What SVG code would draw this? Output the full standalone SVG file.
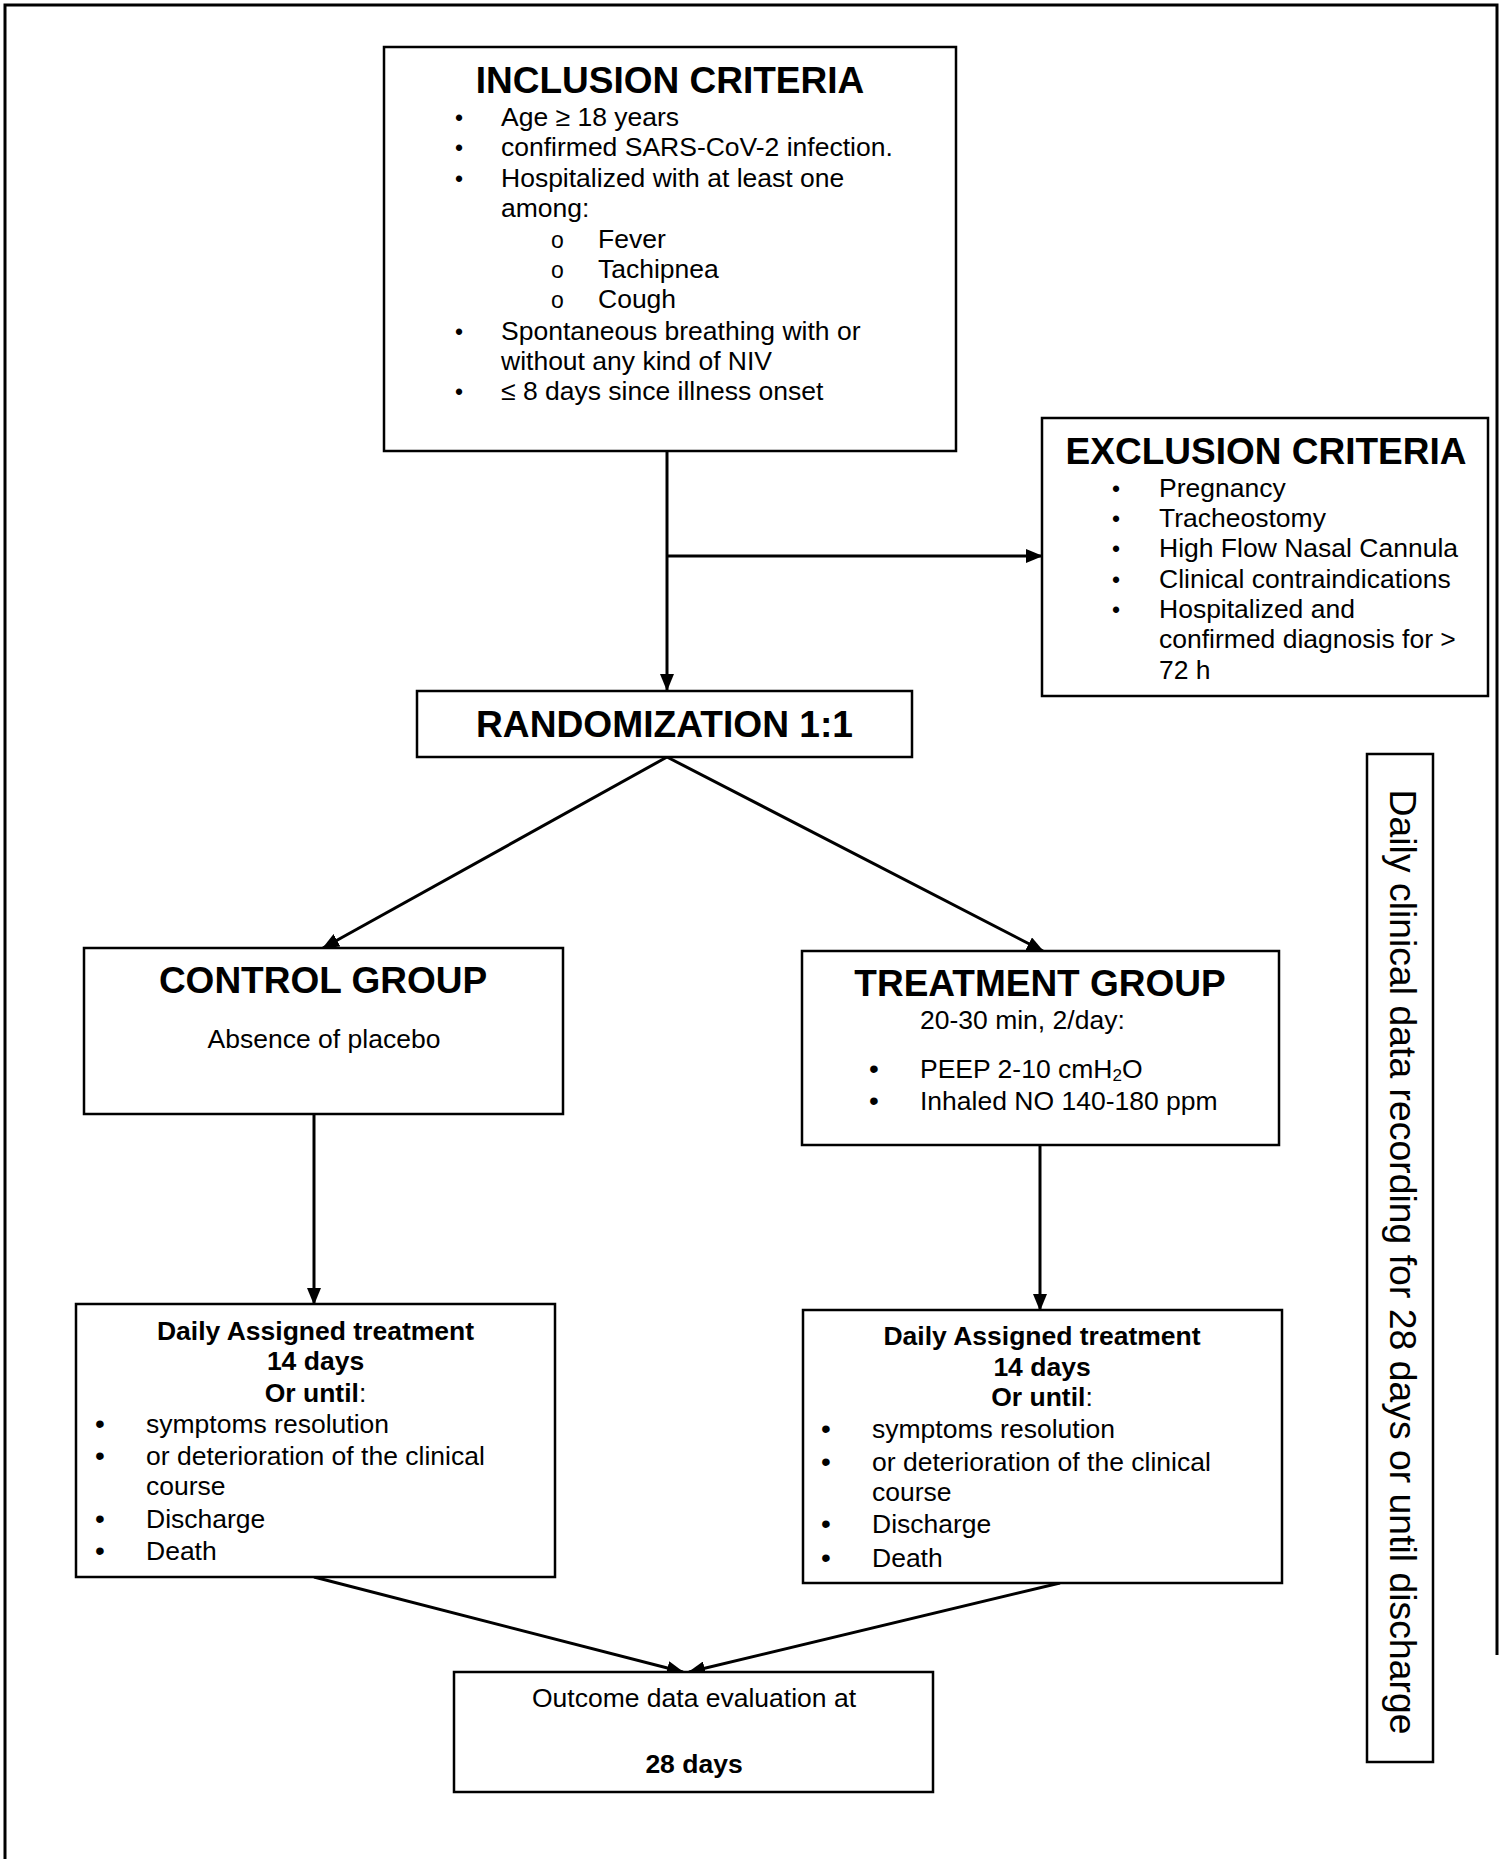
<svg xmlns="http://www.w3.org/2000/svg" width="1502" height="1859" viewBox="0 0 1502 1859">
<style>
text{font-family:"Liberation Sans",Arial,sans-serif;fill:#000}
.box{fill:#fff;stroke:#000;stroke-width:2.5}
.t{font-size:37px;font-weight:bold;text-anchor:middle}
.b{font-size:26.5px}
.bb{font-size:26.5px;font-weight:bold}
.c{text-anchor:middle}
.dot{font-size:23px}
.sub{font-size:23px}
.dot2{font-size:28px}
.con{stroke:#000;stroke-width:3;fill:none}
</style>
<defs>
<marker id="ah" markerUnits="userSpaceOnUse" markerWidth="17" markerHeight="14" refX="16" refY="7" orient="auto">
<path d="M0,0 L17,7 L0,14 z" fill="#000"/>
</marker>
</defs>
<rect width="1502" height="1859" fill="#fff"/>
<path d="M5,1859 V5 H1497 V1655" fill="none" stroke="#000" stroke-width="3"/>

<g id="connectors">
<line class="con" x1="667" y1="451" x2="667" y2="690" marker-end="url(#ah)"/>
<line class="con" x1="667" y1="556" x2="1042" y2="556" marker-end="url(#ah)"/>
<line class="con" x1="667" y1="757" x2="323" y2="948" marker-end="url(#ah)"/>
<line class="con" x1="667" y1="757" x2="1043" y2="951" marker-end="url(#ah)"/>
<line class="con" x1="314" y1="1114" x2="314" y2="1304" marker-end="url(#ah)"/>
<line class="con" x1="1040" y1="1145" x2="1040" y2="1310" marker-end="url(#ah)"/>
<line class="con" x1="314" y1="1577" x2="683" y2="1672" marker-end="url(#ah)"/>
<line class="con" x1="1060" y1="1583" x2="689" y2="1672" marker-end="url(#ah)"/>
</g>

<g id="inclusion">
<rect class="box" x="384" y="47" width="572" height="404"/>
<text class="t" x="670" y="93">INCLUSION CRITERIA</text>
<text class="dot" x="455" y="126">•</text><text class="b" x="501" y="126">Age ≥ 18 years</text>
<text class="dot" x="455" y="156">•</text><text class="b" x="501" y="156">confirmed SARS-CoV-2 infection.</text>
<text class="dot" x="455" y="187">•</text><text class="b" x="501" y="187">Hospitalized with at least one</text>
<text class="b" x="501" y="217">among:</text>
<text class="sub" x="551" y="248">o</text><text class="b" x="598" y="248">Fever</text>
<text class="sub" x="551" y="278">o</text><text class="b" x="598" y="278">Tachipnea</text>
<text class="sub" x="551" y="308">o</text><text class="b" x="598" y="308">Cough</text>
<text class="dot" x="455" y="340">•</text><text class="b" x="501" y="340">Spontaneous breathing with or</text>
<text class="b" x="501" y="370">without any kind of NIV</text>
<text class="dot" x="455" y="400">•</text><text class="b" x="501" y="400">≤ 8 days since illness onset</text>
</g>

<g id="exclusion">
<rect class="box" x="1042" y="418" width="446" height="278"/>
<text class="t" x="1266" y="464">EXCLUSION CRITERIA</text>
<text class="dot" x="1112" y="497">•</text><text class="b" x="1159" y="497">Pregnancy</text>
<text class="dot" x="1112" y="527">•</text><text class="b" x="1159" y="527">Tracheostomy</text>
<text class="dot" x="1112" y="557">•</text><text class="b" x="1159" y="557">High Flow Nasal Cannula</text>
<text class="dot" x="1112" y="588">•</text><text class="b" x="1159" y="588">Clinical contraindications</text>
<text class="dot" x="1112" y="618">•</text><text class="b" x="1159" y="618">Hospitalized and</text>
<text class="b" x="1159" y="648">confirmed diagnosis for &gt;</text>
<text class="b" x="1159" y="679">72 h</text>
</g>

<g id="randomization">
<rect class="box" x="417" y="691" width="495" height="66"/>
<text class="t" x="664.5" y="737" textLength="377" lengthAdjust="spacingAndGlyphs">RANDOMIZATION 1:1</text>
</g>

<g id="control">
<rect class="box" x="84" y="948" width="479" height="166"/>
<text class="t" x="323" y="993">CONTROL GROUP</text>
<text class="b c" x="324" y="1048">Absence of placebo</text>
</g>

<g id="treatment">
<rect class="box" x="802" y="951" width="477" height="194"/>
<text class="t" x="1040" y="996">TREATMENT GROUP</text>
<text class="b" x="920" y="1029">20-30 min, 2/day:</text>
<text class="dot2" x="869" y="1078">•</text><text class="b" x="920" y="1078">PEEP 2-10 cmH<tspan font-size="17" dy="3">2</tspan><tspan dy="-3">O</tspan></text>
<text class="dot2" x="869" y="1110">•</text><text class="b" x="920" y="1110">Inhaled NO 140-180 ppm</text>
</g>

<g id="daily-control">
<rect class="box" x="76" y="1304" width="479" height="273"/>
<text class="bb c" x="315.5" y="1340">Daily Assigned treatment</text>
<text class="bb c" x="315.5" y="1370">14 days</text>
<text class="b c" x="315.5" y="1402"><tspan font-weight="bold">Or until</tspan>:</text>
<text class="dot2" x="95" y="1433">•</text><text class="b" x="146" y="1433">symptoms resolution</text>
<text class="dot2" x="95" y="1465">•</text><text class="b" x="146" y="1465">or deterioration of the clinical</text>
<text class="b" x="146" y="1495">course</text>
<text class="dot2" x="95" y="1528">•</text><text class="b" x="146" y="1528">Discharge</text>
<text class="dot2" x="95" y="1560">•</text><text class="b" x="146" y="1560">Death</text>
</g>

<g id="daily-treatment">
<rect class="box" x="803" y="1310" width="479" height="273"/>
<text class="bb c" x="1042" y="1345">Daily Assigned treatment</text>
<text class="bb c" x="1042" y="1376">14 days</text>
<text class="b c" x="1042" y="1406"><tspan font-weight="bold">Or until</tspan>:</text>
<text class="dot2" x="821" y="1438">•</text><text class="b" x="872" y="1438">symptoms resolution</text>
<text class="dot2" x="821" y="1471">•</text><text class="b" x="872" y="1471">or deterioration of the clinical</text>
<text class="b" x="872" y="1501">course</text>
<text class="dot2" x="821" y="1533">•</text><text class="b" x="872" y="1533">Discharge</text>
<text class="dot2" x="821" y="1567">•</text><text class="b" x="872" y="1567">Death</text>
</g>

<g id="outcome">
<rect class="box" x="454" y="1672" width="479" height="120"/>
<text class="b c" x="694" y="1707">Outcome data evaluation at</text>
<text class="bb c" x="694" y="1773">28 days</text>
</g>

<g id="daily-recording">
<rect class="box" x="1367" y="754" width="66" height="1008"/>
<text font-size="37" text-anchor="middle" transform="translate(1390,1262) rotate(90)" textLength="945" lengthAdjust="spacingAndGlyphs">Daily clinical data recording for 28 days or until discharge</text>
</g>
</svg>
